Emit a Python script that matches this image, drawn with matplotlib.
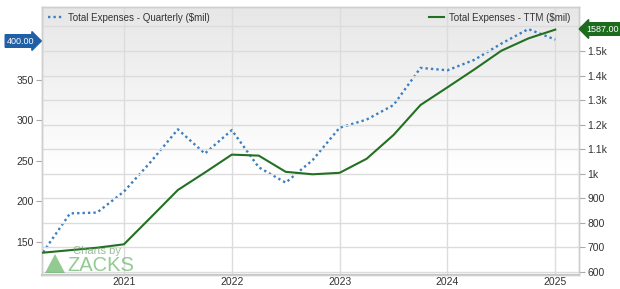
import numpy as np
import matplotlib
matplotlib.use("Agg")
import matplotlib.pyplot as plt
from matplotlib.patches import Polygon

plt.rcParams['font.family'] = ['Liberation Sans', 'DejaVu Sans']

# quarter ends, as decimal years
quarters = [2020.25, 2020.5, 2020.75, 2021.0, 2021.25, 2021.5, 2021.75, 2022.0,
            2022.25, 2022.5, 2022.75, 2023.0, 2023.25, 2023.5, 2023.75, 2024.0,
            2024.25, 2024.5, 2024.75, 2025.0]
quarterly = [137, 185, 186, 212, 249, 289, 259, 288, 242, 223, 251, 291,
             301, 319, 365, 362, 375, 395, 413, 400]
ttm = [679, 689, 699, 713, 823, 934, 1005, 1078, 1074, 1008, 998, 1004,
       1061, 1158, 1280, 1352, 1425, 1501, 1551, 1587]

years = [2021, 2022, 2023, 2024, 2025]
left_ticks = [150, 200, 250, 300, 350]
right_ticks = [600, 700, 800, 900, 1000, 1100, 1200, 1300, 1400, 1500, 1600]
right_labels = ["600", "700", "800", "900", "1k", "1.1k", "1.2k", "1.3k", "1.4k", "1.5k", "1.6k"]

blue = "#3b7fc0"
green = "#237023"
grid_c = "#dcdcdc"
text_c = "#333333"

fig = plt.figure(figsize=(6.2, 2.89), dpi=100)
fig.patch.set_facecolor("white")
ax = fig.add_axes([42 / 620, 14 / 289, (579 - 42) / 620, (275 - 7) / 289])
ax2 = ax.twinx()

# gray-to-white background
grad = np.linspace(0, 1, 256).reshape(-1, 1)
grad = np.clip(grad / 0.6, 0, 1)
bg = np.ones((256, 1, 3))
top = np.array([0.905, 0.905, 0.905])
for i in range(256):
    bg[i, 0, :] = top + (1 - top) * grad[i, 0]
ax.imshow(bg, extent=[0, 1, 0, 1], transform=ax.transAxes, aspect="auto", zorder=0)

ax.set_xlim(2020.24, 2025.22)
ax.set_ylim(108.8, 440.3)
ax2.set_ylim(588, 1679)

for y in years:
    ax.axvline(y, color=grid_c, lw=1, zorder=1)
for r in right_ticks:
    ax2.axhline(r, color=grid_c, lw=1, zorder=0.5)

ax.plot(quarters, quarterly, color=blue, lw=1.7, linestyle=(0, (1, 1.3)),
        label="Total Expenses - Quarterly ($mil)", zorder=3)
ax2.plot(quarters, ttm, color=green, lw=1.5, label="Total Expenses - TTM ($mil)", zorder=3)

ax.set_xticks(years)
ax.set_xticklabels([str(y) for y in years])
ax.set_yticks(left_ticks)
ax.set_yticklabels([str(v) for v in left_ticks])
ax2.set_yticks(right_ticks)
ax2.set_yticklabels(right_labels)

ax.tick_params(axis="x", length=0, pad=1.5, labelsize=7.5, colors=text_c)
ax.tick_params(axis="y", length=4, width=0.8, color="#aaaaaa", pad=2, labelsize=7.5, labelcolor=text_c)
ax2.tick_params(axis="y", length=4, width=0.8, color="#aaaaaa", pad=2, labelsize=7.5, labelcolor=text_c)

for a in (ax, ax2):
    for s in a.spines.values():
        s.set_color("#cfcfcf")
        s.set_linewidth(1)
ax.spines["bottom"].set_linewidth(1.6)
ax.spines["bottom"].set_color("#c4c4c4")
ax.spines["left"].set_color("#c4c4c4")

leg1 = ax.legend(loc="upper left", frameon=False, fontsize=7, handlelength=1.6,
                 handletextpad=0.5, borderaxespad=0.2, bbox_to_anchor=(0.0, 1.0))
for t in leg1.get_texts():
    t.set_color(text_c)
leg2 = ax2.legend(loc="upper right", frameon=False, fontsize=7, handlelength=1.6,
                  handletextpad=0.5, borderaxespad=0.2, bbox_to_anchor=(0.995, 1.0))
for t in leg2.get_texts():
    t.set_color(text_c)

# value badges
fig.text(7 / 620, 1 - 41 / 289, "400.00", color="white", fontsize=6.5, va="center", ha="left",
         bbox=dict(boxstyle="rarrow,pad=0.2", fc="#1f5fa6", ec="#1f5fa6"), zorder=10)
fig.text(586 / 620, 1 - 29 / 289, "1587.00", color="white", fontsize=6.5, va="center", ha="left",
         bbox=dict(boxstyle="larrow,pad=0.2", fc="#1d6b1d", ec="#1d6b1d"), zorder=10)

# Zacks watermark
wm = "#4aa84a"
tri = Polygon([[45 / 620, 1 - 273 / 289], [55 / 620, 1 - 254 / 289], [65 / 620, 1 - 273 / 289]],
              closed=True, transform=fig.transFigure, fc=wm, ec="none", alpha=0.6, zorder=5)
fig.patches.append(tri)
fig.text(73 / 620, 1 - 251 / 289, "Charts by", color="#6f9f6f", fontsize=8, alpha=0.7,
         va="center", ha="left", zorder=5)
fig.text(67 / 620, 1 - 265.5 / 289, "ZACKS", color=wm, fontsize=14.5, alpha=0.6,
         va="center", ha="left", zorder=5)

fig.savefig("out.png", dpi=100)
